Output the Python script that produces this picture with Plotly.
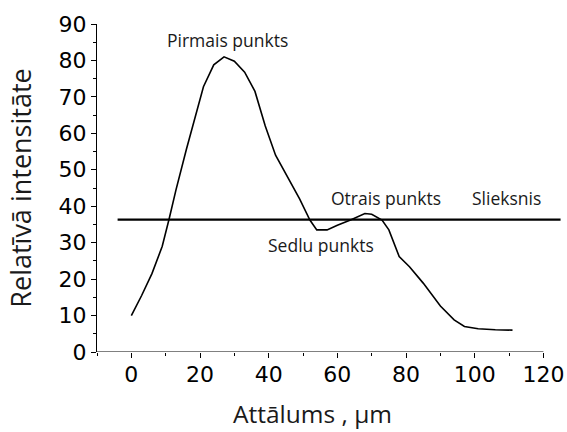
"""Relative intensity profile with threshold line."""

import plotly.graph_objects as go

# distance (um) and relative intensity read from the profile
distance_um = [0, 3, 6, 9, 11, 13, 16, 19, 21, 24, 27, 30, 33, 36, 39, 42, 46,
               49, 52, 54, 57, 60, 64, 68, 70, 73, 75, 78, 81, 85, 90, 94, 97,
               101, 106, 111]
intensity = [10, 15.5, 21.5, 29, 36.5, 44.5, 55.5, 65.5, 72.8, 78.8, 81, 79.8,
             76.8, 71.5, 62, 54, 47.2, 42, 36.2, 33.5, 33.5, 34.8, 36.3, 38,
             37.8, 36.2, 33.5, 26.2, 23.4, 18.9, 12.6, 8.8, 7.0, 6.4, 6.1, 6.0]

# threshold level ("Slieksnis")
threshold_x = [-4, 125]
threshold_y = [36.3, 36.3]

# text labels placed on the chart
label_text = ["Pirmais punkts", "Otrais punkts", "Slieksnis", "Sedlu punkts"]
label_x = [28.1, 74.2, 109.3, 55.3]
label_y = [85.6, 42.2, 42.2, 29.4]

X_RANGE = [-10, 126]
Y_RANGE = [0, 90]
TEXT_FONT = "Open Sans"
TICK_FONT = "DejaVu Sans"

fig = go.Figure()
fig.add_trace(go.Scatter(x=distance_um, y=intensity, mode="lines",
                         line=dict(color="black", width=1.6), showlegend=False))
fig.add_trace(go.Scatter(x=threshold_x, y=threshold_y, mode="lines",
                         line=dict(color="black", width=2.2), showlegend=False))

for txt, lx, ly in zip(label_text, label_x, label_y):
    fig.add_annotation(x=lx, y=ly, text=txt, showarrow=False,
                       font=dict(family=TEXT_FONT, size=17.5, color="#1a1a1a"))

# x title sits a bit left of the axis centre, so place it by hand
fig.add_annotation(text="Attālums , μm", xref="paper", yref="paper",
                   x=0.4625, y=0, yanchor="bottom", yshift=-80, showarrow=False,
                   font=dict(family=TEXT_FONT, size=24.5, color="#1a1a1a"))

# x axis line stops at 120 while the threshold runs past it
fig.add_shape(type="line", xref="x", yref="y", x0=X_RANGE[0], x1=120, y0=0, y1=0,
              line=dict(color="black", width=1))

fig.update_xaxes(
    range=X_RANGE, showline=False, showgrid=False, zeroline=False,
    tick0=0, dtick=20, ticks="outside", ticklen=5, tickwidth=1, tickcolor="black",
    minor=dict(dtick=10, ticks="outside", ticklen=3, tickwidth=1, tickcolor="black"),
    tickfont=dict(family=TICK_FONT, size=22, color="black"),
    ticklabelstandoff=-2,
)
fig.update_yaxes(
    range=Y_RANGE, showline=True, linecolor="black", linewidth=1,
    showgrid=False, zeroline=False,
    tick0=0, dtick=10, ticks="outside", ticklen=5, tickwidth=1, tickcolor="black",
    minor=dict(dtick=5, ticks="outside", ticklen=3, tickwidth=1, tickcolor="black"),
    tickfont=dict(family=TICK_FONT, size=22, color="black"),
    ticklabelstandoff=0,
    title=dict(text="Relatīvā intensitāte", standoff=19,
               font=dict(family=TEXT_FONT, size=27, color="#1a1a1a")),
)

fig.update_layout(
    width=567, height=432,
    margin=dict(l=97, r=3, t=24, b=80, autoexpand=False),
    plot_bgcolor="white", paper_bgcolor="white",
)

# drop the default body margin so the figure fills the window exactly
fig.write_html("out.html", config={"displayModeBar": False},
               post_script="document.body.style.margin = '0px';")
